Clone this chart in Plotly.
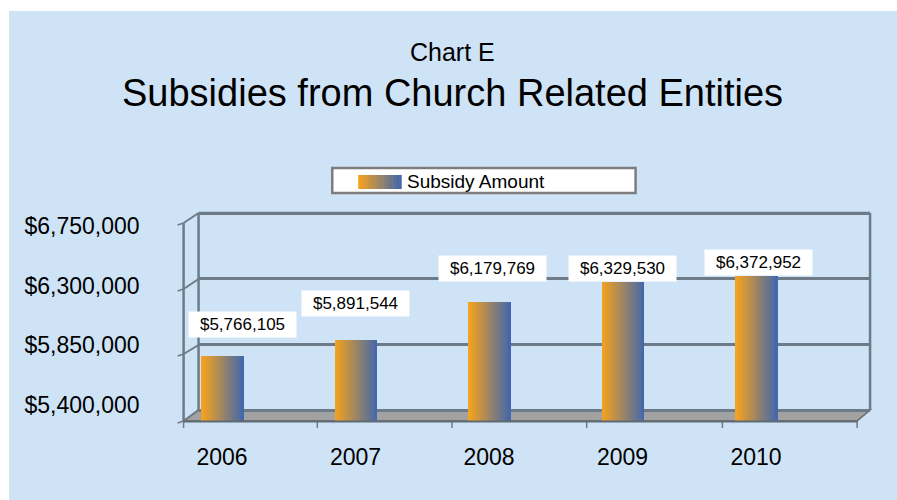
import plotly.graph_objects as go

# ---------------- data ----------------
years = ["2006", "2007", "2008", "2009", "2010"]
subsidy = [5766105, 5891544, 6179769, 6329530, 6372952]
tick_vals = [5400000, 5850000, 6300000, 6750000]
tick_text = ["$5,400,000", "$5,850,000", "$6,300,000", "$6,750,000"]
series_name = "Subsidy Amount"
title_small = "Chart E"
title_big = "Subsidies from Church Related Entities"

# ---------------- layout helpers (pixel frame of 897x500) ----------------
W, H = 897, 500
def px(x):
    return x / W
def py(y):
    return 1 - y / H

FONT = "Liberation Sans, Arial, Helvetica, sans-serif"
BG = "#cfe3f6"
GRID = "#6c7b87"
c_left = (245, 162, 30)
c_right = (68, 104, 170)

plot_top, plot_bot = 211, 421
plot_left, plot_right = 197, 870
cat_px = 133.8          # pixels per category
first_center = 220.5
x_range = [-(first_center - plot_left) / cat_px, (plot_right - first_center) / cat_px]

# value axis (bars + labels): 5.4M at 405px, 6.75M at 226px
vp = (tick_vals[-1] - tick_vals[0]) / (405 - 226)
y_range = [tick_vals[0] - (plot_bot - 405) * vp, tick_vals[-1] + (226 - plot_top) * vp]
# grid axis (back wall): 5.4M at 410px, 6.75M at 213px
gp = (tick_vals[-1] - tick_vals[0]) / (410 - 213)
g_range = [tick_vals[0] - (plot_bot - 410) * gp, tick_vals[-1] + (213 - plot_top) * gp]

def mix(t):
    r = [round(a + (b - a) * t) for a, b in zip(c_left, c_right)]
    return "rgb(%d,%d,%d)" % tuple(r)

fig = go.Figure()

# gradient bars built from thin slices
N = 22
bar_w = 43 / cat_px
sw = bar_w / N
for k in range(N):
    fig.add_trace(go.Bar(
        x=years, y=subsidy,
        offset=-bar_w / 2 + k * sw,
        width=sw * (1.6 if k < N - 1 else 1.0),
        marker=dict(color=mix(k / (N - 1)), line=dict(width=0)),
        showlegend=False, hoverinfo="skip" if k else "x+y",
        name=series_name,
    ))

# invisible trace carrying the back-wall grid axis
fig.add_trace(go.Scatter(x=years, y=subsidy, yaxis="y2", mode="markers",
                         marker=dict(opacity=0), showlegend=False, hoverinfo="skip"))

shapes = []
# background panel
shapes.append(dict(type="rect", xref="paper", yref="paper", x0=px(7), x1=1, y0=0, y1=py(11),
                   fillcolor=BG, line=dict(width=0), layer="below"))
# floor
shapes.append(dict(type="path", xref="paper", yref="paper",
                   path="M %f,%f L %f,%f L %f,%f L %f,%f Z" % (px(197), py(410), px(870), py(410),
                                                             px(857), py(421), px(182), py(421)),
                   fillcolor="#a2a2a2", line=dict(color="#6a6a6a", width=1.5), layer="below"))
# back wall: top edge and side edges
shapes.append(dict(type="line", xref="paper", yref="paper", x0=px(197), x1=px(870),
                   y0=py(213), y1=py(213), line=dict(color=GRID, width=2.5), layer="below"))
for xx in (197, 870):
    shapes.append(dict(type="line", xref="paper", yref="paper", x0=px(xx), x1=px(xx),
                       y0=py(213), y1=py(410), line=dict(color=GRID, width=2.5), layer="below"))
# left side wall: front edge + diagonals + small ticks
shapes.append(dict(type="line", xref="paper", yref="paper", x0=px(182), x1=px(182),
                   y0=py(223), y1=py(421), line=dict(color=GRID, width=2.5), layer="below"))
for yb, yf in zip((213, 279, 345, 410), (223, 289, 354, 421)):
    shapes.append(dict(type="line", xref="paper", yref="paper", x0=px(182), x1=px(197),
                       y0=py(yf), y1=py(yb), line=dict(color=GRID, width=2), layer="below"))
    shapes.append(dict(type="line", xref="paper", yref="paper", x0=px(176), x1=px(182),
                       y0=py(yf + 2), y1=py(yf), line=dict(color=GRID, width=1.5), layer="below"))
# front floor ticks
for xx in (182, 316, 451, 586, 722, 857):
    shapes.append(dict(type="line", xref="paper", yref="paper", x0=px(xx), x1=px(xx),
                       y0=py(421), y1=py(428), line=dict(color=GRID, width=1.5), layer="above"))
shapes.append(dict(type="line", xref="paper", yref="paper", x0=px(182), x1=px(857),
                   y0=py(421.5), y1=py(421.5), line=dict(color="#5e6a72", width=2), layer="above"))

# legend box (manual)
shapes.append(dict(type="rect", xref="paper", yref="paper", x0=px(331), x1=px(635), y0=py(193),
                   y1=py(168), fillcolor="white", line=dict(color="#7d7d7d", width=2.5)))
M = 24
for k in range(M):
    x0 = 357 + k * 43 / M
    shapes.append(dict(type="rect", xref="paper", yref="paper", x0=px(x0), x1=px(x0 + 43 / M + 0.6),
                       y0=py(189), y1=py(175), fillcolor=mix(k / (M - 1)), line=dict(width=0)))

annotations = [
    dict(text=title_small, xref="paper", yref="paper", x=px(452), y=py(52), showarrow=False,
         font=dict(family=FONT, size=25, color="black"), xanchor="center", yanchor="middle"),
    dict(text=title_big, xref="paper", yref="paper", x=px(452), y=py(93), showarrow=False,
         font=dict(family=FONT, size=38, color="black"), xanchor="center", yanchor="middle"),
    dict(text=series_name, xref="paper", yref="paper", x=px(404), y=py(181), showarrow=False,
         font=dict(family=FONT, size=19, color="black"), xanchor="left", yanchor="middle"),
]

# value labels (small manual nudges, as in the original)
label_dy = [18, 23, 20, 0, 0]
label_dx = [20, 0, 3, 0, 2]
for i, v in enumerate(subsidy):
    annotations.append(dict(
        text="${:,}".format(v), x=i, y=v, xref="x", yref="y",
        showarrow=False, xanchor="center", yanchor="bottom",
        xshift=label_dx[i], yshift=label_dy[i],
        bgcolor="white", borderpad=3, width=101,
        font=dict(family=FONT, size=17, color="black"),
    ))

fig.update_layout(
    width=W, height=H,
    margin=dict(l=0, r=0, t=0, b=0),
    paper_bgcolor="white",
    plot_bgcolor="rgba(0,0,0,0)",
    barmode="overlay",
    bargap=0,
    showlegend=False,
    shapes=shapes,
    annotations=annotations,
    xaxis=dict(type="category", domain=[px(plot_left), px(plot_right)], range=x_range,
               showgrid=False, zeroline=False, showline=False, ticks="",
               tickfont=dict(family=FONT, size=23, color="black"), ticklabelstandoff=20),
    yaxis=dict(domain=[py(plot_bot), py(plot_top)], range=y_range, tickvals=tick_vals,
               ticktext=tick_text, showgrid=False, zeroline=False, showline=False, ticks="",
               tickfont=dict(family=FONT, size=23, color="black"), ticklabelstandoff=58),
    yaxis2=dict(overlaying="y", side="left", range=g_range, tickvals=tick_vals,
                showticklabels=False, showgrid=True, gridcolor=GRID, gridwidth=2.5,
                zeroline=False, showline=False, ticks=""),
)

fig.write_html("out.html", config={"displayModeBar": False},
               post_script="document.body.style.margin='0';document.body.style.overflow='hidden';")
